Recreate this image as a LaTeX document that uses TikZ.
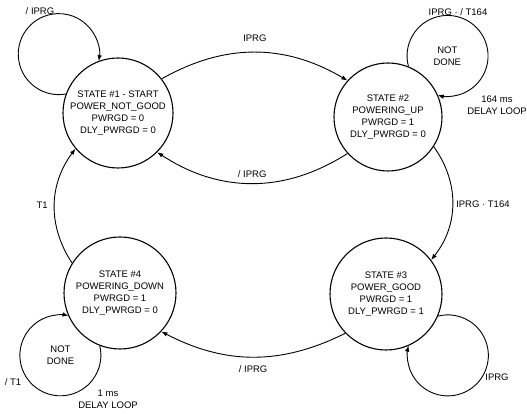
\documentclass[tikz,border=0pt]{standalone}
\usepackage{fontspec}
\setmainfont{Liberation Sans}
\usetikzlibrary{arrows.meta,positioning}
\tikzset{
  state/.style={draw, circle, minimum size=108pt, inner sep=0pt, line width=1.1pt, align=center},
  trans/.style={draw, line width=0.9pt, ->},
  lbl/.style={align=center, inner sep=0pt},
}
\begin{document}
\begin{tikzpicture}[x=1pt, y=1pt, >={Latex[length=6pt,width=4.5pt]}, font=\fontsize{9.5}{12}\selectfont]
\useasboundingbox (0,0) rectangle (527,414);

\node[state, minimum size=110pt] (1) at (118,301) {STATE \#1 - START\\POWER\_NOT\_GOOD\\PWRGD = 0\\DLY\_PWRGD = 0};
\node[state] (2) at (388,297) {STATE \#2\\POWERING\_UP\\PWRGD = 1\\DLY\_PWRGD = 0};
\node[state, minimum size=112pt] (3) at (386,120) {STATE \#3\\POWER\_GOOD\\PWRGD = 1\\DLY\_PWRGD = 1};
\node[state, minimum size=112pt] (4) at (120,121) {STATE \#4\\POWERING\_DOWN\\PWRGD = 1\\DLY\_PWRGD = 0};

% transitions between states
\path[trans] (1.38) to[bend left=30] node[above=7pt] (t12) {IPRG} (2.138);
\path[trans] (2.222) to[bend left=33] node[above=2pt] (t21) {/ IPRG} (1.315);
\path[trans] (2.327) to[bend left=37] node[right] (t23) {IPRG · T164} (3.37);
\path[trans] (3.224) to[bend left=27] node[below=5pt] (t34) {/ IPRG} (4.317);
\path[trans] (4.148) to[bend left=35] node[left=3pt] (t41) {T1} (1.220);

% self loops
\path[trans] (1.160) arc[start angle=280, end angle=-10, radius=40.5];
\node[lbl] (l1) at (40,403) {/ IPRG};

\path[trans] (2.68) arc[start angle=195, end angle=-104, radius=40.5];
\node[lbl] (n2) at (447.3,357.6) {NOT\\DONE};
\node[lbl] (l2) at (458,402) {IPRG · / T164};
\node[lbl] (d2) at (497,309) {164 ms\\DELAY LOOP};

\path[trans] (3.337) arc[start angle=104, end angle=-194, radius=40.5];
\node[lbl] (l3) at (497,37) {IPRG};

\path[trans] (4.249) arc[start angle=13.6, end angle=-281.5, radius=40.5];
\node[lbl] (n4) at (60.5,59.2) {NOT\\DONE};
\node[lbl] (l4) at (13,32) {/ T1};
\node[lbl] (d4) at (108,15) {1 ms\\DELAY LOOP};
\end{tikzpicture}
\end{document}
